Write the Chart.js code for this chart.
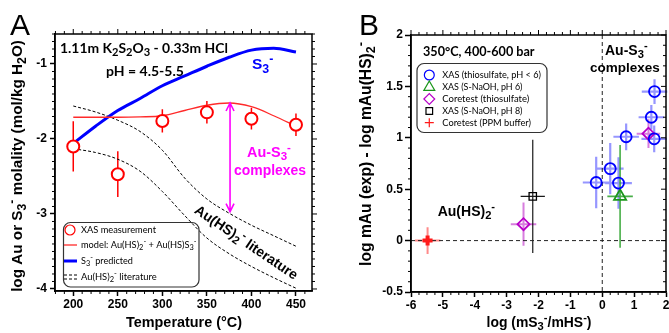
<!DOCTYPE html>
<html>
<head>
<meta charset="utf-8">
<script src="https://cdn.jsdelivr.net/npm/chart.js@4.4.1/dist/chart.umd.min.js"></script>
<style>
html, body { margin: 0; padding: 0; background: #fff; overflow: hidden; }
#wrap { position: relative; width: 669px; height: 333px; overflow: hidden; }
.box { position: absolute; top: 0; height: 333px; }
</style>
</head>
<body>
<div id="wrap">
  <div class="box" style="left:0;width:335px"><canvas id="chartA"></canvas></div>
  <div class="box" style="left:335px;width:340px"><canvas id="chartB"></canvas></div>
</div>
<script>
// ---- panel A : log molality vs temperature ----
const tempXas = [200, 250, 300, 350, 400, 450];
const logAuXas = [-2.10, -2.47, -1.76, -1.645, -1.73, -1.81];
const logAuXasErr = [0.335, 0.305, 0.155, 0.15, 0.145, 0.15];

const tempCurve = [200, 225, 250, 275, 300, 325, 350, 375, 400, 425, 450];
const logAuModel = [-1.71, -1.71, -1.71, -1.705, -1.69, -1.62, -1.55, -1.52, -1.57, -1.69, -1.83];
const logS3 = [-2.06, -1.83, -1.62, -1.46, -1.29, -1.16, -1.03, -0.91, -0.815, -0.79, -0.84];
const litUpper = [-1.56, -1.64, -1.75, -1.90, -2.15, -2.52, -2.80, -2.99, -3.15, -3.29, -3.43];
const litLower = [-2.13, -2.18, -2.27, -2.43, -2.70, -3.02, -3.32, -3.53, -3.70, -3.85, -3.99];

// magenta arrow between model and literature at ~375 C
const arrowTemp = 376;
const arrowTop = -1.52;
const arrowBottom = -2.97;

const xTicksA = [200, 250, 300, 350, 400, 450];
const yTicksA = [-4, -3, -2, -1];

// ---- panel B : log mAu(exp) - log mAu(HS)2- vs log(mS3-/mHS-) ----
const thioX = [1.64, 1.54, 0.75, 1.63, 0.25, -0.19, 0.51];
const thioY = [1.45, 1.20, 1.01, 0.99, 0.70, 0.565, 0.56];
const thioXErr = [0.4, 0.4, 0.4, 0.4, 0.42, 0.42, 0.42];
const thioYErr = [0.12, 0.12, 0.13, 0.13, 0.25, 0.25, 0.25];

const naoh6X = [0.56];
const naoh6Y = [0.43];
const naoh6XErr = [0.4];
const naoh6YErr = [0.5];

const coreThioX = [-2.47, 1.45];
const coreThioY = [0.16, 1.04];
const coreThioXErr = [0.4, 0.37];
const coreThioYErr = [0.21, 0.14];

const naoh8X = [-2.18];
const naoh8Y = [0.43];
const naoh8XErr = [0.38];
const naoh8YErr = [0.55];

const ppmX = [-5.48];
const ppmY = [0.0];
const ppmXErr = [0.4];
const ppmYErr = [0.13];

const xTicksB = [-6, -5, -4, -3, -2, -1, 0, 1, 2];
const yTicksB = [-0.5, 0, 0.5, 1, 1.5, 2];

const ARIAL = "'Liberation Sans', Arial, sans-serif";
const CALIBRI = "Lato, 'Open Sans', sans-serif";

const pairs = (xs, ys) => xs.map((v, i) => ({ x: v, y: ys[i] }));

// text with _x subscripts and ^x superscripts
function parseRich(str) {
    const segs = [];
    let i = 0;
    while (i < str.length) {
        const c = str[i];
        if (c === '_' || c === '^') {
            segs.push({ t: str[i + 1], k: c });
            i += 2;
        } else {
            let j = i;
            while (j < str.length && str[j] !== '_' && str[j] !== '^') j++;
            segs.push({ t: str.slice(i, j), k: '' });
            i = j;
        }
    }
    return segs;
}

// draws the text, returns the font size that was used
function richText(ctx, str, x, y, o) {
    const weight = o.weight || 'bold';
    const family = o.family || ARIAL;
    const segs = parseRich(str);
    const fontOf = (s, sz) => weight + ' ' + (s.k ? sz * 0.8 : sz).toFixed(2) + 'px ' + family;
    const measure = sz => {
        let w = 0;
        segs.forEach(s => { ctx.font = fontOf(s, sz); s.w = ctx.measureText(s.t).width; w += s.w; });
        return w;
    };
    let size = o.size || 12;
    let w = measure(size);
    if (o.width) { size = size * o.width / w; w = measure(size); }
    let cx = o.align === 'center' ? x - w / 2 : (o.align === 'right' ? x - w : x);
    ctx.fillStyle = o.color || '#000';
    ctx.textAlign = 'left';
    ctx.textBaseline = 'middle';
    segs.forEach(s => {
        ctx.font = fontOf(s, size);
        let dy = 0;
        if (s.k === '_') dy = size * 0.28;
        if (s.k === '^') dy = -size * 0.36;
        ctx.fillText(s.t, cx, y + dy);
        cx += s.w;
    });
    return size;
}

function rotatedText(ctx, str, cx, cy, angle, o) {
    ctx.save();
    ctx.translate(cx, cy);
    ctx.rotate(angle);
    richText(ctx, str, 0, 0, Object.assign({ align: 'center' }, o));
    ctx.restore();
}

function roundBox(ctx, x, y, w, h, r) {
    ctx.beginPath();
    ctx.moveTo(x + r, y);
    ctx.arcTo(x + w, y, x + w, y + h, r);
    ctx.arcTo(x + w, y + h, x, y + h, r);
    ctx.arcTo(x, y + h, x, y, r);
    ctx.arcTo(x, y, x + w, y, r);
    ctx.closePath();
    ctx.stroke();
}

// error bars from dataset arrays, drawn under the markers
const errorBars = {
    id: 'errorBars',
    beforeDatasetsDraw(chart) {
        const { ctx, scales: { x, y } } = chart;
        ctx.save();
        chart.data.datasets.forEach(ds => {
            if (!ds.errY && !ds.errX) return;
            ctx.strokeStyle = ds.errColor;
            ctx.lineWidth = ds.errWidth;
            ctx.beginPath();
            ds.data.forEach((p, i) => {
                const px = x.getPixelForValue(p.x);
                const py = y.getPixelForValue(p.y);
                if (ds.errY) {
                    ctx.moveTo(px, y.getPixelForValue(p.y - ds.errY[i]));
                    ctx.lineTo(px, y.getPixelForValue(p.y + ds.errY[i]));
                }
                if (ds.errX) {
                    ctx.moveTo(x.getPixelForValue(p.x - ds.errX[i]), py);
                    ctx.lineTo(x.getPixelForValue(p.x + ds.errX[i]), py);
                }
            });
            ctx.stroke();
        });
        ctx.restore();
    }
};

// box frame, minor ticks and mirrored ticks on top / right
const frameTicks = {
    id: 'frameTicks',
    afterDraw(chart, args, opts) {
        const { ctx, chartArea: a, scales: { x, y } } = chart;
        const isMajor = (s, v) => s.ticks.some(t => Math.abs(t.value - v) < 1e-6);
        ctx.save();
        ctx.strokeStyle = '#000';
        ctx.lineWidth = 1.5;
        ctx.strokeRect(a.left, a.top, a.right - a.left, a.bottom - a.top);
        ctx.lineWidth = 1;
        ctx.beginPath();
        for (let n = Math.ceil(x.min / opts.minorX - 1e-9); n * opts.minorX <= x.max + 1e-9; n++) {
            const v = n * opts.minorX;
            const px = x.getPixelForValue(v);
            const major = isMajor(x, v);
            if (!major) { ctx.moveTo(px, a.bottom); ctx.lineTo(px, a.bottom + 3); }
            ctx.moveTo(px, a.top);
            ctx.lineTo(px, a.top - (major ? 5 : 3) * opts.topDir);
        }
        for (let n = Math.ceil(y.min / opts.minorY - 1e-9); n * opts.minorY <= y.max + 1e-9; n++) {
            const v = n * opts.minorY;
            const py = y.getPixelForValue(v);
            const major = isMajor(y, v);
            if (!major) { ctx.moveTo(a.left, py); ctx.lineTo(a.left - 3, py); }
            ctx.moveTo(a.right, py);
            ctx.lineTo(a.right + (major ? 5 : 3) * opts.rightDir, py);
        }
        ctx.stroke();
        ctx.restore();
    }
};

function axis(min, max, tickVals, size, tickLen, pad) {
    return {
        type: 'linear',
        min: min,
        max: max,
        afterBuildTicks: s => { s.ticks = tickVals.map(v => ({ value: v })); },
        afterFit: s => { if (s.isHorizontal()) s.height = size; else s.width = size; },
        grid: { display: true, drawOnChartArea: false, drawTicks: true, tickLength: tickLen, tickWidth: 1.5, tickColor: '#000' },
        border: { display: true, color: '#000', width: 1.5 },
        ticks: {
            color: '#000', padding: pad, autoSkip: false, maxRotation: 0,
            font: { family: ARIAL, size: 12, weight: 'bold' },
            callback: v => String(v)
        },
        title: { display: false }
    };
}

// ---- panel A texts, arrow, legend ----
const annotA = {
    id: 'annotA',
    afterDatasetsDraw(chart) {
        const { ctx, scales: { x, y } } = chart;
        const ds = chart.data.datasets;
        ctx.save();

        // arrow
        const ax = x.getPixelForValue(arrowTemp);
        const y1 = y.getPixelForValue(arrowTop);
        const y2 = y.getPixelForValue(arrowBottom);
        ctx.strokeStyle = '#ff00ff';
        ctx.lineWidth = 1.6;
        ctx.beginPath();
        ctx.moveTo(ax, y1); ctx.lineTo(ax, y2);
        ctx.moveTo(ax - 4, y1 + 8); ctx.lineTo(ax, y1); ctx.lineTo(ax + 4, y1 + 8);
        ctx.moveTo(ax - 4, y2 - 8); ctx.lineTo(ax, y2); ctx.lineTo(ax + 4, y2 - 8);
        ctx.stroke();

        richText(ctx, '1.11m K_2S_2O_3 - 0.33m HCl', 60, 49, { family: CALIBRI, size: 14, width: 168 });
        richText(ctx, 'pH = 4.5-5.5', 106, 71, { family: CALIBRI, size: 14, width: 78 });
        richText(ctx, 'S_3^-', 252, 65, { size: 15.5, color: '#0000ff' });
        const cs = richText(ctx, 'complexes', 234, 171, { size: 15, width: 72, color: '#ff00ff' });
        richText(ctx, 'Au-S_3^-', 247, 153, { size: cs + 0.5, color: '#ff00ff' });
        rotatedText(ctx, 'Au(HS)_2^- literature', 246, 243, 34 * Math.PI / 180, { size: 14 });

        // legend
        ctx.strokeStyle = '#333';
        ctx.lineWidth = 1.2;
        roundBox(ctx, 63.5, 222.5, 135.5, 64.5, 7);
        const rows = [230, 245, 261, 277];
        ctx.strokeStyle = '#ff0000';
        ctx.fillStyle = '#fff';
        Chart.helpers.drawPoint(ctx, { pointStyle: 'circle', radius: 5, borderWidth: 2, rotation: 0 }, 70, rows[0]);
        ctx.beginPath();
        ctx.lineWidth = ds[1].borderWidth; ctx.strokeStyle = ds[1].borderColor;
        ctx.moveTo(64, rows[1]); ctx.lineTo(77, rows[1]); ctx.stroke();
        ctx.beginPath();
        ctx.lineWidth = ds[2].borderWidth; ctx.strokeStyle = ds[2].borderColor;
        ctx.moveTo(64, rows[2]); ctx.lineTo(77, rows[2]); ctx.stroke();
        ctx.beginPath();
        ctx.lineWidth = 1; ctx.strokeStyle = '#000'; ctx.setLineDash([3, 2]);
        ctx.moveTo(64, rows[3] - 2); ctx.lineTo(77, rows[3] - 2);
        ctx.moveTo(64, rows[3] + 2); ctx.lineTo(77, rows[3] + 2);
        ctx.stroke();
        ctx.setLineDash([]);
        const widths = [75, 115.7, 52, 75.7];
        [0, 1, 2, 3].forEach(i => {
            richText(ctx, ds[i].label, 81, rows[i], { family: CALIBRI, weight: 'normal', size: 10, width: widths[i] });
        });

        // titles and panel letter
        ctx.fillStyle = '#000';
        ctx.font = '30px ' + ARIAL;
        ctx.textBaseline = 'alphabetic';
        ctx.fillText('A', 10, 35);
        rotatedText(ctx, 'log Au or S_3^- molality (mol/kg H_2O)', 18, 166, -Math.PI / 2, { size: 15, width: 252 });
        richText(ctx, 'Temperature (\u00B0C)', 184, 323, { size: 14, width: 116, align: 'center' });
        ctx.restore();
    }
};

new Chart(document.getElementById('chartA'), {
    type: 'scatter',
    data: {
        datasets: [
            {
                label: 'XAS measurement',
                data: pairs(tempXas, logAuXas),
                errY: logAuXasErr, errColor: '#ff0000', errWidth: 1.5,
                showLine: false,
                pointStyle: 'circle', pointRadius: 6, pointBorderWidth: 2,
                pointBorderColor: '#ff0000', pointBackgroundColor: '#ffffff'
            },
            {
                label: 'model: Au(HS)_2^- + Au(HS)S_3^-',
                data: pairs(tempCurve, logAuModel),
                showLine: true, borderColor: '#ff2a2a', borderWidth: 1.3,
                pointRadius: 0, cubicInterpolationMode: 'monotone'
            },
            {
                label: 'S_3^- predicted',
                data: pairs(tempCurve, logS3),
                showLine: true, borderColor: '#0000ff', borderWidth: 3,
                pointRadius: 0, cubicInterpolationMode: 'monotone'
            },
            {
                label: 'Au(HS)_2^- literature',
                data: pairs(tempCurve, litUpper),
                showLine: true, borderColor: '#000', borderWidth: 1, borderDash: [3, 2],
                pointRadius: 0, cubicInterpolationMode: 'monotone'
            },
            {
                label: 'Au(HS)_2^- literature (lower)',
                data: pairs(tempCurve, litLower),
                showLine: true, borderColor: '#000', borderWidth: 1, borderDash: [3, 2],
                pointRadius: 0, cubicInterpolationMode: 'monotone'
            }
        ]
    },
    options: {
        responsive: true,
        maintainAspectRatio: false,
        animation: false,
        events: [],
        layout: { padding: { left: 0, right: 23, top: 34, bottom: 0 } },
        scales: {
            x: axis(179.5, 468, xTicksA, 42, 5, 1),
            y: axis(-4.027, -0.6, yTicksA, 55, 5, 3)
        },
        plugins: {
            legend: { display: false },
            tooltip: { enabled: false },
            frameTicks: { minorX: 10, minorY: 0.1, topDir: 1, rightDir: 1 }
        }
    },
    plugins: [errorBars, frameTicks, annotA]
});

// ---- panel B texts, dashed zero lines, legend ----
const annotB = {
    id: 'annotB',
    beforeDatasetsDraw(chart) {
        const { ctx, chartArea: a, scales: { x, y } } = chart;
        ctx.save();
        ctx.strokeStyle = '#222';
        ctx.lineWidth = 1;
        ctx.setLineDash([4, 3]);
        ctx.beginPath();
        const y0 = y.getPixelForValue(0), x0 = x.getPixelForValue(0);
        ctx.moveTo(a.left, y0); ctx.lineTo(a.right, y0);
        ctx.moveTo(x0, a.top); ctx.lineTo(x0, a.bottom);
        ctx.stroke();
        ctx.restore();
    },
    afterDatasetsDraw(chart) {
        const { ctx } = chart;
        const ds = chart.data.datasets;
        ctx.save();
        richText(ctx, '350\u00B0C, 400-600 bar', 88, 52, { family: CALIBRI, size: 13, width: 111.6 });
        richText(ctx, 'Au-S_3^-', 270, 51, { size: 14 });
        richText(ctx, 'complexes', 255, 68.5, { size: 13.5 });
        richText(ctx, 'Au(HS)_2^-', 102.7, 211.7, { size: 14 });

        // legend box
        ctx.strokeStyle = '#333';
        ctx.lineWidth = 1.2;
        roundBox(ctx, 82, 63.5, 130, 69, 7);
        const rows = [75, 87.3, 99, 111, 122.7];
        const widths = [98.7, 80.3, 87, 80.3, 88.7];
        ds.forEach((d, i) => {
            ctx.strokeStyle = d.pointBorderColor;
            ctx.fillStyle = 'rgba(0,0,0,0)';
            Chart.helpers.drawPoint(ctx, {
                pointStyle: d.pointStyle, radius: d.pointRadius * 0.9,
                borderWidth: d.pointBorderWidth, rotation: 0
            }, 94.3, rows[i]);
            richText(ctx, d.label, 107.3, rows[i], { family: CALIBRI, weight: 'normal', size: 10, width: widths[i] });
        });

        ctx.fillStyle = '#000';
        ctx.font = '30px ' + ARIAL;
        ctx.textBaseline = 'alphabetic';
        ctx.fillText('B', 24, 35);
        rotatedText(ctx, 'log mAu (exp) - log mAu(HS)_2^-', 32, 154, -Math.PI / 2, { size: 15, width: 224 });
        richText(ctx, 'log (mS_3^-/mHS^-)', 204, 323, { size: 14, width: 105, align: 'center' });
        ctx.restore();
    }
};

new Chart(document.getElementById('chartB'), {
    type: 'scatter',
    data: {
        datasets: [
            {
                label: 'XAS (thiosulfate, pH < 6)',
                data: pairs(thioX, thioY),
                errX: thioXErr, errY: thioYErr, errColor: 'rgba(80,80,255,0.6)', errWidth: 2.2,
                pointStyle: 'circle', pointRadius: 5.5, pointBorderWidth: 1.8,
                pointBorderColor: '#0000ff', pointBackgroundColor: 'rgba(0,0,0,0)'
            },
            {
                label: 'XAS (S-NaOH, pH 6)',
                data: pairs(naoh6X, naoh6Y),
                errX: naoh6XErr, errY: naoh6YErr, errColor: 'rgba(40,160,40,0.85)', errWidth: 1.6,
                pointStyle: 'triangle', pointRadius: 7, pointBorderWidth: 1.8,
                pointBorderColor: '#1a961a', pointBackgroundColor: 'rgba(0,0,0,0)'
            },
            {
                label: 'Coretest (thiosulfate)',
                data: pairs(coreThioX, coreThioY),
                errX: coreThioXErr, errY: coreThioYErr, errColor: 'rgba(190,40,200,0.6)', errWidth: 2,
                pointStyle: 'rectRot', pointRadius: 6, pointBorderWidth: 1.8,
                pointBorderColor: '#b800c8', pointBackgroundColor: 'rgba(0,0,0,0)'
            },
            {
                label: 'XAS (S-NaOH, pH 8)',
                data: pairs(naoh8X, naoh8Y),
                errX: naoh8XErr, errY: naoh8YErr, errColor: 'rgba(0,0,0,0.9)', errWidth: 1.2,
                pointStyle: 'rect', pointRadius: 5.2, pointBorderWidth: 1.3,
                pointBorderColor: '#000', pointBackgroundColor: 'rgba(0,0,0,0)'
            },
            {
                label: 'Coretest (PPM buffer)',
                data: pairs(ppmX, ppmY),
                errX: ppmXErr, errY: ppmYErr, errColor: 'rgba(255,60,60,0.6)', errWidth: 2,
                pointStyle: 'cross', pointRadius: 5, pointBorderWidth: 4,
                pointBorderColor: '#ff1a1a', pointBackgroundColor: 'rgba(0,0,0,0)'
            }
        ]
    },
    options: {
        responsive: true,
        maintainAspectRatio: false,
        animation: false,
        events: [],
        layout: { padding: { left: 0, right: 8, top: 35, bottom: 0 } },
        scales: {
            x: axis(-6, 2, xTicksB, 41, 5, 1),
            y: axis(-0.5, 2, yTicksB, 76, 6, 2)
        },
        plugins: {
            legend: { display: false },
            tooltip: { enabled: false },
            frameTicks: { minorX: 0.25, minorY: 0.1, topDir: 1, rightDir: -1 }
        }
    },
    plugins: [errorBars, frameTicks, annotB]
});
</script>
</body>
</html>
